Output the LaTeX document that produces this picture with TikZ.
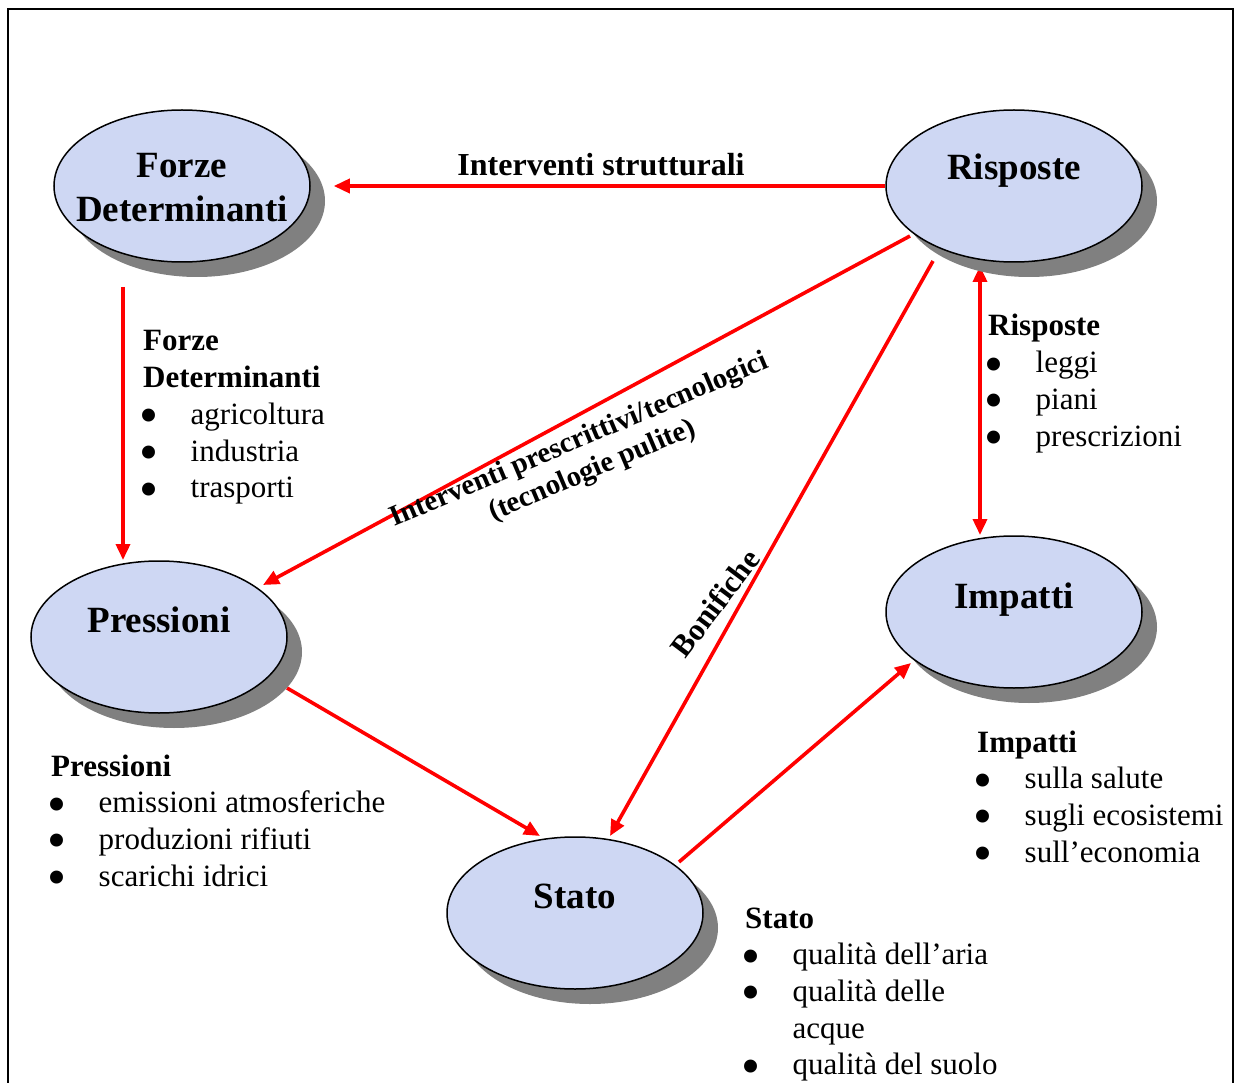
\documentclass[tikz,border=0pt]{standalone}
\usepackage{fontspec}
\setmainfont{Liberation Serif}
\usetikzlibrary{arrows.meta,shapes.geometric,shadows,calc,backgrounds}

\definecolor{ellfill}{RGB}{206,215,243}
\definecolor{ellshadow}{RGB}{128,128,128}
\definecolor{arrred}{RGB}{255,0,0}

% list helpers
\newcommand{\listhead}[1]{\multicolumn{2}{@{}l@{}}{\bfseries #1}}
\newcommand{\listbullet}{\hspace*{-4pt}\raisebox{-9.5pt}{\scalebox{1.75}{\textbullet}}}

\tikzset{
  ellnode/.style={ellipse, draw=black, line width=1.5pt, fill=ellfill,
    minimum width=256pt, minimum height=152pt, inner sep=0pt,
    drop shadow={shadow xshift=15pt, shadow yshift=-15pt, fill=ellshadow, opacity=1}},
  elltext/.style={inner sep=0pt, align=center, font=\bfseries\fontsize{37}{44}\selectfont},
  arr/.style={draw=arrred, line width=3.6pt, -{Triangle[length=16pt,width=14pt]}},
  dblarr/.style={draw=arrred, line width=3.6pt, {Triangle[length=16pt,width=14pt]}-{Triangle[length=16pt,width=14pt]}},
  linklabel/.style={inner sep=0pt, font=\bfseries\fontsize{32}{36}\selectfont},
  listnode/.style={inner sep=0pt, anchor=base west, font=\fontsize{31}{36.7}\selectfont},
}

\begin{document}
\begin{tikzpicture}[x=1pt, y=-1pt]
\useasboundingbox (0,0) rectangle (1235,1083);
\clip (0,0) rectangle (1235,1083);

% outer frame (open at the bottom edge of the page)
\draw[line width=1.6pt] (8,1100) -- (8,9) -- (1233,9) -- (1233,1100);

% the five DPSIR ellipses
\node[ellnode] (forze) at (182,186) {};
\node[ellnode] (risp)  at (1014,186) {};
\node[ellnode] (pres)  at (159,637) {};
\node[ellnode] (imp)   at (1014,612) {};
\node[ellnode] (stato) at (575,913) {};

% ellipse titles
\node[elltext] (forze-t) at ([yshift=-2pt]forze.center) {Forze\\Determinanti};
\node[elltext, anchor=base] (risp-t)  at ([yshift=6pt]risp.center)  {Risposte};
\node[elltext, anchor=base] (pres-t)  at ([yshift=5pt]pres.center)  {Pressioni};
\node[elltext, anchor=base] (imp-t)   at ([yshift=4pt]imp.center)   {Impatti};
\node[elltext, anchor=base] (stato-t) at ([yshift=5pt]stato.center) {Stato};

% connectors, kept behind the ellipses and their shadows
\begin{pgfonlayer}{background}
\draw[arr] (risp.west) -- ($(forze.east)+(23,0)$);
\draw[arr] ($(forze.center)+(-59,101)$) -- ($(pres.center)+(-36,-77)$);
\draw[arr] ($(risp.center)+(-104,50)$) -- ($(pres.center)+(104,-52)$);
\draw[arr] ($(risp.center)+(-81,75)$) -- ($(stato.center)+(35,-77)$);
\draw[dblarr] ($(risp.center)+(-34,80)$) -- ($(imp.center)+(-34,-77)$);
\draw[arr] ($(pres.center)+(128,51)$) -- ($(stato.center)+(-35,-77)$);
\draw[arr] ($(stato.center)+(104,-51)$) -- ($(imp.center)+(-103,51)$);
\end{pgfonlayer}

% connector labels
\node[linklabel, anchor=base] (strutt-t) at (601,176) {Interventi strutturali};
\node[linklabel, rotate=23, align=center, font=\bfseries\fontsize{29}{33}\selectfont]
  (presc-t) at (586,456) {Interventi prescrittivi/tecnologici\\(tecnologie pulite)};
\node[linklabel, rotate=53, font=\bfseries\fontsize{31}{36}\selectfont]
  (bon-t) at (715,603) {Bonifiche};

% lists of indicators
\node[listnode] (forze-l) at (143,351) {\begin{tabular}[t]{@{}p{47.5pt}@{}l@{}}
\listhead{Forze}\\
\listhead{Determinanti}\\
\listbullet & agricoltura\\
\listbullet & industria\\
\listbullet & trasporti
\end{tabular}};

\node[listnode] (risp-l) at (988,336) {\begin{tabular}[t]{@{}p{47.5pt}@{}l@{}}
\listhead{Risposte}\\
\listbullet & leggi\\
\listbullet & piani\\
\listbullet & prescrizioni
\end{tabular}};

\node[listnode] (pres-l) at (51,776) {\begin{tabular}[t]{@{}p{47.5pt}@{}l@{}}
\listhead{Pressioni}\\
\listbullet & emissioni atmosferiche\\
\listbullet & produzioni rifiuti\\
\listbullet & scarichi idrici
\end{tabular}};

\node[listnode] (imp-l) at (977,752) {\begin{tabular}[t]{@{}p{47.5pt}@{}l@{}}
\listhead{Impatti}\\
\listbullet & sulla salute\\
\listbullet & sugli ecosistemi\\
\listbullet & sull’economia
\end{tabular}};

\node[listnode] (stato-l) at (745,928) {\begin{tabular}[t]{@{}p{47.5pt}@{}l@{}}
\listhead{Stato}\\
\listbullet & qualità dell’aria\\
\listbullet & qualità delle\\
 & acque\\
\listbullet & qualità del suolo
\end{tabular}};

\end{tikzpicture}
\end{document}
